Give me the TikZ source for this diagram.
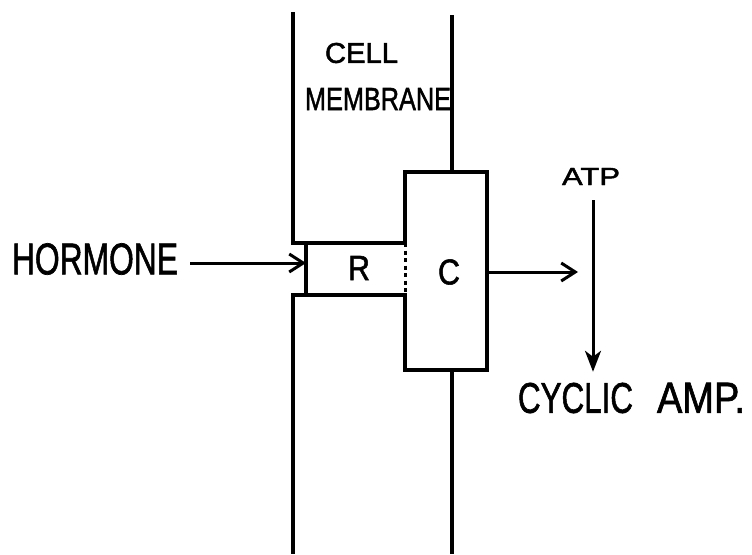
\documentclass[tikz,border=0pt]{standalone}
\usepackage{fontspec}
\usepackage{graphicx}
\newfontfamily\lab[FakeBold=1.6]{Liberation Sans}
\usetikzlibrary{arrows.meta}
\newcommand\fitlab[3]{\resizebox{#1pt}{#2pt}{\lab #3}}
\begin{document}
\begin{tikzpicture}[x=1pt,y=-1pt,
  mem/.style={line width=3.2pt},
  dots/.style={line width=3pt, dash pattern=on 4pt off 3.5pt},
  box/.style={draw=none, inner sep=0pt, outer sep=0pt},
  txt/.style={inner sep=0pt, outer sep=0pt},
  barb/.style={line width=3pt, -{Straight Barb[length=14pt,width=18pt,line width=3pt]}},
  stl/.style={line width=3pt, -{Stealth[length=21pt,width=16pt,inset=6pt]}}]
\useasboundingbox (0,0) rectangle (752,554);
\fill[white] (0,0) rectangle (752,554);
% boxes
\node[box, minimum width=99pt, minimum height=52pt] (Rbox) at (355.5,269) {};
\node[box, minimum width=82pt, minimum height=198pt] (Cbox) at (446,271) {};
\coordinate (LT) at (293,12);
\coordinate (LB) at (293,554);
\coordinate (RT) at (452,15);
\coordinate (RB) at (452,554);
% membrane and boxes
\draw[mem] (LT) |- (Rbox.north east) -- (Cbox.north west) -- (Cbox.north east)
  -- (Cbox.south east) -- (Cbox.south west) -- (Rbox.south east) -| (LB);
\draw[mem] (Rbox.north west) -- (Rbox.south west);
\draw[dots] (Rbox.north east) -- (Rbox.south east);
\draw[mem] (RT) -- (RT |- Cbox.north);
\draw[mem] (RB |- Cbox.south) -- (RB);
% labels
\node[txt] (cell) at (361.5,53) {\fitlab{73}{20}{CELL}};
\node[txt] (membrane) at (378,99) {\fitlab{146}{22}{MEMBRANE}};
\node[txt] (Rlab) at (359,268) {\fitlab{22}{24}{R}};
\node[txt] (Clab) at (449,272) {\fitlab{22}{25}{C}};
\node[txt] (hormone) at (95,259) {\fitlab{166}{31}{HORMONE}};
\node[txt] (atp) at (591,176.5) {\fitlab{58}{17}{ATP}};
\node[txt] (cyclic) at (631.5,398) {\fitlab{115}{30}{CYCLIC}\hspace{24pt}\fitlab{88}{30}{AMP.}};
\coordinate (out) at (578,272);
% arrows
\draw[barb, shorten <=12pt] ([yshift=-4pt]hormone.east) -- ([yshift=6pt]Rbox.west);
\draw[barb] ([yshift=-1pt]Cbox.east) -- (out);
\draw[stl, shorten <=15pt, shorten >=11pt] ([xshift=2pt]atp.south) -- ([xshift=2pt]atp.south |- cyclic.north);
\end{tikzpicture}
\end{document}
